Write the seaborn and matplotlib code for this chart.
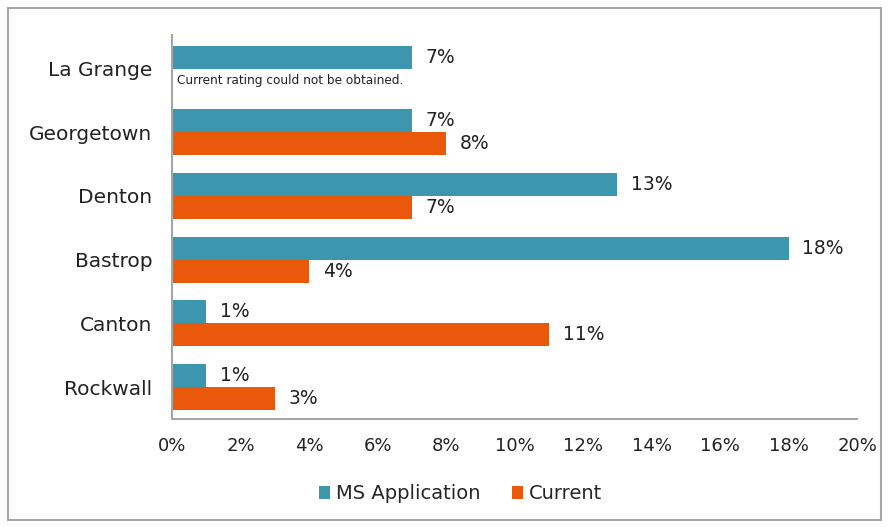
import matplotlib
matplotlib.use("Agg")
import matplotlib.pyplot as plt
import seaborn as sns
import pandas as pd
import numpy as np
from matplotlib.patches import Rectangle
from matplotlib.ticker import FuncFormatter

cities = ["La Grange", "Georgetown", "Denton", "Bastrop", "Canton", "Rockwall"]
ms_application = [7, 7, 13, 18, 1, 1]
current = [np.nan, 8, 7, 4, 11, 3]
series_names = ["MS Application", "Current"]
colors = ["#3C97AE", "#EA580C"]
note = "Current rating could not be obtained."

df = pd.DataFrame({
    "City": cities * 2,
    "Series": [series_names[0]] * len(cities) + [series_names[1]] * len(cities),
    "Value": ms_application + current,
})

sns.set_theme(style="white")
plt.rcParams["font.family"] = ["DejaVu Sans"]

fig = plt.figure(figsize=(8.91, 5.27), dpi=100)
ax = fig.add_axes([0.193, 0.205, 0.769, 0.729])

sns.barplot(data=df, y="City", x="Value", hue="Series", order=cities,
            hue_order=series_names, palette=colors, orient="h", width=0.72,
            saturation=1, linewidth=0, ax=ax, legend=True)

ax.set_xlim(0, 20)
ax.set_ylim(5.5, -0.53)
ax.set_xticks(np.arange(0, 21, 2))
ax.xaxis.set_major_formatter(FuncFormatter(lambda v, p: f"{int(v)}%"))
ax.set_xlabel("")
ax.set_ylabel("")
ax.tick_params(axis="x", length=0, pad=13, labelsize=13, colors="#222222")
ax.tick_params(axis="y", length=0, pad=14, labelsize=14.5, colors="#222222")
for s in ["top", "right"]:
    ax.spines[s].set_visible(False)
for s in ["left", "bottom"]:
    ax.spines[s].set_color("#A6A6A6")
    ax.spines[s].set_linewidth(1.5)

for cont in ax.containers:
    for bar in cont:
        w = bar.get_width()
        if np.isnan(w) or w == 0:
            continue
        ax.text(w + 0.4, bar.get_y() + bar.get_height() / 2, f"{int(round(w))}%",
                va="center", ha="left", fontsize=13.5, color="#222222")

ax.text(0.15, 0.19, note, va="center", ha="left", fontsize=8.7, color="#222222")

leg = ax.legend(loc="center", bbox_to_anchor=(0.517, 0.063), bbox_transform=fig.transFigure,
                ncol=2, frameon=False, fontsize=14, handlelength=0.6, handleheight=0.6,
                handletextpad=0.3, columnspacing=1.6)

fig.patches.append(Rectangle((8 / 891, 7 / 527), 873 / 891, 512 / 527, transform=fig.transFigure,
                             fill=False, edgecolor="#A6A6A6", linewidth=1.5))

fig.savefig("out.png", dpi=100)
